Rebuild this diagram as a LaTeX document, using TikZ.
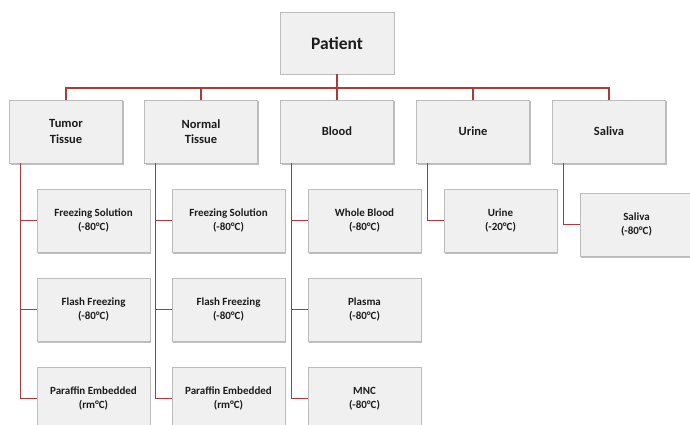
\documentclass[tikz,border=0pt]{standalone}
\usepackage{fontspec}
\setmainfont{Carlito}
\usetikzlibrary{calc}
\usetikzlibrary{shadows}
\definecolor{boxfill}{RGB}{240,240,240}
\definecolor{boxline}{RGB}{188,188,188}
\definecolor{branch}{RGB}{172,58,58}
\definecolor{ink}{RGB}{28,28,28}
\tikzset{
        every node/.style={align=center,outer sep=0pt,text=ink},
        sample/.style={draw=boxline,fill=boxfill,line width=0.8pt,
                minimum width=113pt,minimum height=63pt,inner sep=2pt,
                drop shadow={shadow xshift=1.2pt,shadow yshift=-1.5pt,fill=black,opacity=0.25}},
        top/.style={sample,minimum width=114pt,minimum height=62pt,font=\fontsize{17.5}{21}\selectfont\bfseries},
        kind/.style={sample,font=\fontsize{12.5}{15.3}\selectfont\bfseries},
        store/.style={sample,font=\fontsize{11}{14.3}\selectfont\bfseries},
        link/.style={draw=branch,line width=1.3pt},
        }

\begin{document}
\begin{tikzpicture}[x=1pt,y=-1pt]
			\clip (0,0) rectangle (690,425);

			% patient
			\node [top] (patient) at (337,43) {Patient};
			\coordinate (hub) at ($(patient.south)+(0,14)$);

			% sample kinds
			\node [kind] (tumor) at (66,131.5) {Tumor\\Tissue};
			\node [kind] (normal) at (201,131.5) {Normal\\Tissue};
			\node [kind] (blood) at (337,131.5) {Blood};
			\node [kind] (urine) at (473,131.5) {Urine};
			\node [kind] (saliva) at (609,131.5) {Saliva};

			% tumor tissue storage
			\node [store] (tumor1) at (93.5,220.5) {Freezing Solution\\(-80°C)};
			\node [store] (tumor2) at (93.5,309.5) {Flash Freezing\\(-80°C)};
			\node [store] (tumor3) at (93.5,398.5) {Paraffin Embedded\\(rm°C)};

			% normal tissue storage
			\node [store] (normal1) at (228.5,220.5) {Freezing Solution\\(-80°C)};
			\node [store] (normal2) at (228.5,309.5) {Flash Freezing\\(-80°C)};
			\node [store] (normal3) at (228.5,398.5) {Paraffin Embedded\\(rm°C)};

			% blood storage
			\node [store] (blood1) at (364.5,220.5) {Whole Blood\\(-80°C)};
			\node [store] (blood2) at (364.5,309.5) {Plasma\\(-80°C)};
			\node [store] (blood3) at (364.5,398.5) {MNC\\(-80°C)};

			% urine and saliva storage
			\node [store] (urine1) at (500.5,220.5) {Urine\\(-20°C)};
			\node [store] (saliva1) at (636.5,224.5) {Saliva\\(-80°C)};

			% top branches
			\draw [link] (patient.south) -- (hub);
			\draw [link] (tumor.north) |- (hub);
			\draw [link] (normal.north) |- (hub);
			\draw [link] (blood.north) |- (hub);
			\draw [link] (urine.north) |- (hub);
			\draw [link] (saliva.north) |- (hub);

			% side branches
			\draw [link] ($(tumor.south west)+(11,0)$) |- (tumor1.west);
			\draw [link] ($(tumor.south west)+(11,0)$) |- (tumor2.west);
			\draw [link] ($(tumor.south west)+(11,0)$) |- (tumor3.west);
			\draw [link] ($(normal.south west)+(11,0)$) |- (normal1.west);
			\draw [link] ($(normal.south west)+(11,0)$) |- (normal2.west);
			\draw [link] ($(normal.south west)+(11,0)$) |- (normal3.west);
			\draw [link] ($(blood.south west)+(11,0)$) |- (blood1.west);
			\draw [link] ($(blood.south west)+(11,0)$) |- (blood2.west);
			\draw [link] ($(blood.south west)+(11,0)$) |- (blood3.west);
			\draw [link] ($(urine.south west)+(11,0)$) |- (urine1.west);
			\draw [link] ($(saliva.south west)+(11,0)$) |- (saliva1.west);
		\end{tikzpicture}
\end{document}
